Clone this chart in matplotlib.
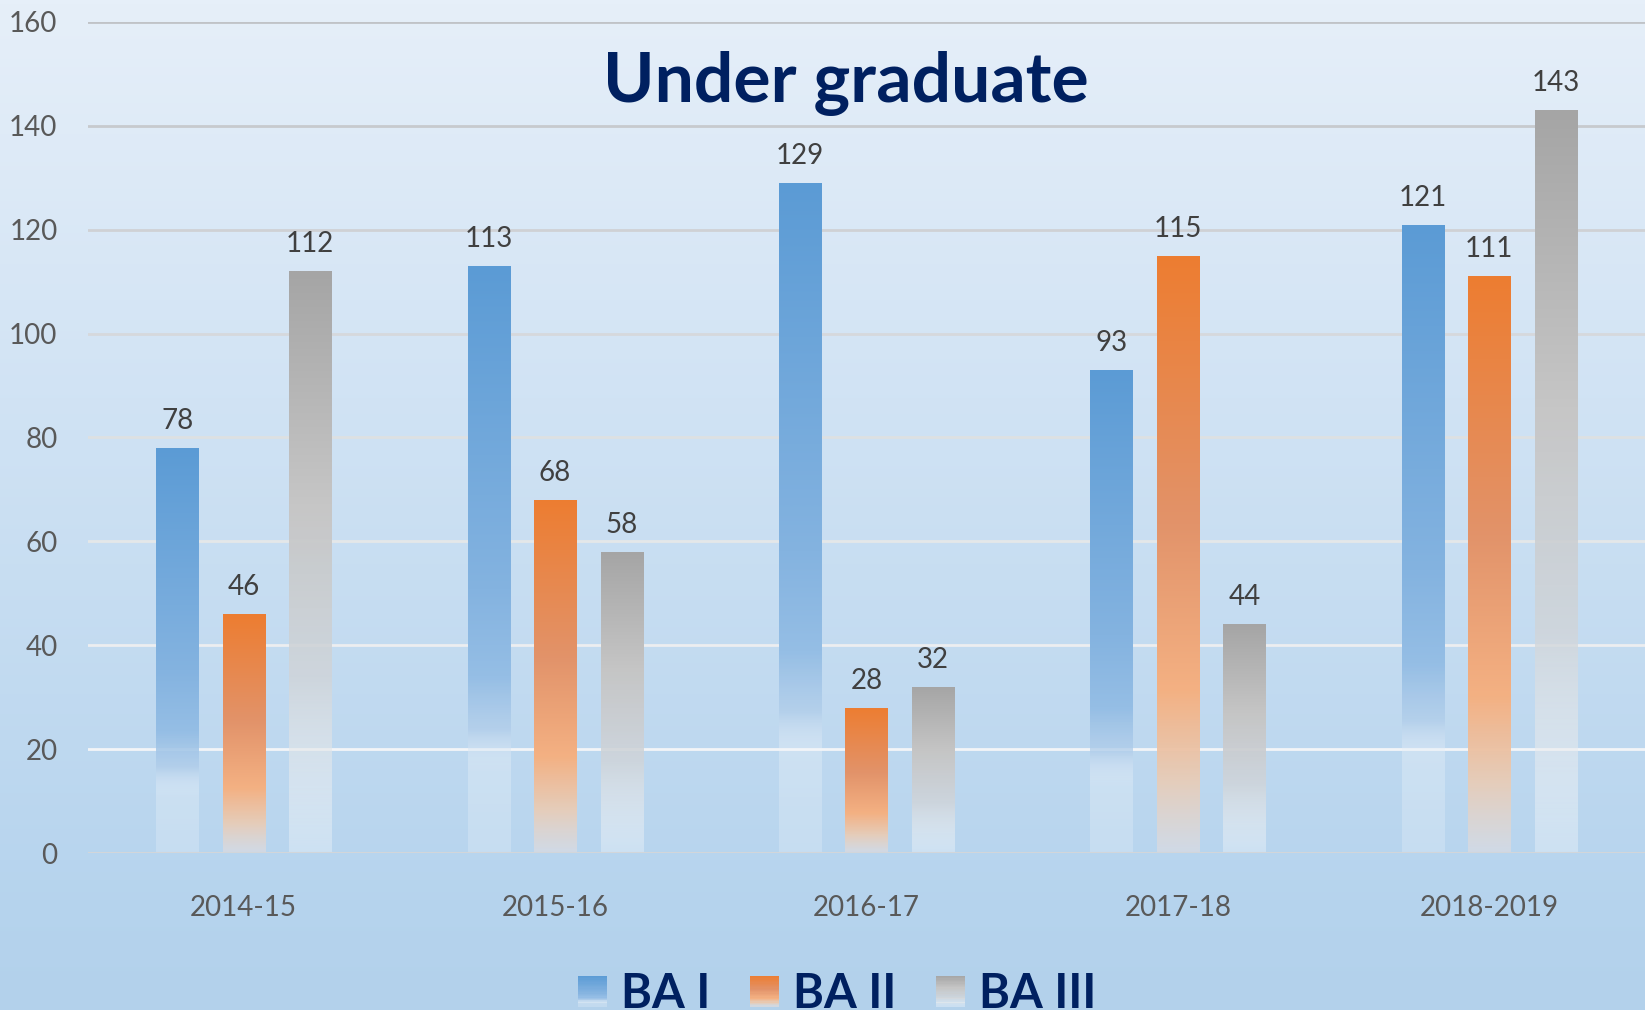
import numpy as np
import matplotlib
matplotlib.use("Agg")
import matplotlib.pyplot as plt
from matplotlib.colors import to_rgb
from matplotlib.patches import Rectangle
from matplotlib.legend_handler import HandlerBase

plt.rcParams['font.family'] = ['Lato', 'DejaVu Sans']

categories = ["2014-15", "2015-16", "2016-17", "2017-18", "2018-2019"]
series_names = ["BA I", "BA II", "BA III"]
ba1 = [78, 113, 129, 93, 121]
ba2 = [46, 68, 28, 115, 111]
ba3 = [112, 58, 32, 44, 143]
series_values = [ba1, ba2, ba3]
yticks = [0, 20, 40, 60, 80, 100, 120, 140, 160]

# gradient stops: (t from bottom 0 -> top 1, colour, alpha)
stops = [
    [(0.0, '#FFFFFF', 0.20), (0.14, '#FFFFFF', 0.24), (0.21, '#B0CDEA', 0.75),
     (0.30, '#95BEE5', 1.0), (0.45, '#84B3E0', 1.0), (1.0, '#5B9BD5', 1.0)],
    [(0.0, '#D9DCE4', 0.75), (0.12, '#E8CDB8', 0.95), (0.27, '#F4B183', 1.0),
     (0.55, '#E2936A', 1.0), (1.0, '#ED7D31', 1.0)],
    [(0.0, '#FFFFFF', 0.30), (0.30, '#D0D5DA', 0.85), (0.60, '#C6C6C6', 1.0),
     (1.0, '#A5A5A5', 1.0)],
]


def make_grad(st, n=256):
    t = np.linspace(0, 1, n)
    ts = [s[0] for s in st]
    cols = np.array([to_rgb(s[1]) for s in st])
    al = np.array([s[2] for s in st])
    out = np.zeros((n, 1, 4))
    for k in range(3):
        out[:, 0, k] = np.interp(t, ts, cols[:, k])
    out[:, 0, 3] = np.interp(t, ts, al)
    return out


W, H = 1645, 1010
fig = plt.figure(figsize=(W / 100, H / 100), dpi=100)

# background gradient
bg = fig.add_axes([0, 0, 1, 1], zorder=-10)
n = 256
tb = np.linspace(0, 1, n)
top = np.array(to_rgb('#E6EFF9'))
bot = np.array(to_rgb('#B3D1EB'))
bgarr = np.zeros((n, 1, 3))
for k in range(3):
    bgarr[:, 0, k] = np.interp(tb, [0, 0.1, 1], [bot[k], bot[k] + 0.01, top[k]])
bg.imshow(bgarr, aspect='auto', origin='lower', extent=[0, 1, 0, 1])
bg.set_axis_off()

ax = fig.add_axes([88 / W, 1 - 853 / H, 1 - 88 / W, (853 - 22) / H])
ax.patch.set_alpha(0)

x = np.arange(len(categories))
width = 0.135
offs = [-0.2135, 0.0, 0.2135]
grads = [make_grad(s) for s in stops]

for i, vals in enumerate(series_values):
    bars = ax.bar(x + offs[i], vals, width=width, facecolor='none', edgecolor='none', zorder=2)
    for rect, v in zip(bars, vals):
        x0 = rect.get_x()
        im = ax.imshow(grads[i], aspect='auto', origin='lower',
                       extent=[x0, x0 + width, 0, v], zorder=2, interpolation='bilinear')
        im.set_clip_path(rect)
        ax.annotate(str(v), (x0 + width / 2, v), xytext=(0, 27), textcoords='offset pixels',
                    ha='center', va='center', fontsize=20, color='#404040')

ax.set_xlim(-0.5, len(categories) - 0.5)
ax.set_ylim(0, 160)
ax.set_yticks(yticks)
ax.set_xticks(x)
ax.set_xticklabels(categories)
for s in ax.spines.values():
    s.set_visible(False)

# gridlines: grey near the top, almost white lower down
g_top = np.array(to_rgb('#C0C3C7'))
g_bot = np.array(to_rgb('#F3F5F7'))
for v in yticks[1:]:
    f = (v - 20) / 140.0
    c = g_bot + (g_top - g_bot) * f
    ax.axhline(v, color=tuple(c), linewidth=2.0, zorder=0.5)
ax.axhline(0, color='#D2D6DA', linewidth=2.2, zorder=3)

ax.tick_params(axis='both', length=0, labelsize=20, colors='#595959')
ax.tick_params(axis='y', pad=22)
ax.tick_params(axis='x', pad=30)

fig.text(846 / W, 1 - 84 / H, "Under graduate", ha='center', va='center',
         fontsize=50, fontweight='bold', color='#002060')


class GradHandler(HandlerBase):
    def __init__(self, grad):
        super().__init__()
        self.grad = grad

    def create_artists(self, legend, orig_handle, xdescent, ydescent, width, height, fontsize, trans):
        arts = []
        nstrip = 24
        for k in range(nstrip):
            t = (k + 0.5) / nstrip
            idx = int(t * (len(self.grad) - 1))
            c = self.grad[idx, 0]
            r = Rectangle((-xdescent, -ydescent + height * k / nstrip), width, height / nstrip + 0.3,
                          facecolor=tuple(c[:3]), alpha=float(c[3]), edgecolor='none', transform=trans)
            arts.append(r)
        return arts


handles = [Rectangle((0, 0), 1, 1) for _ in series_names]
leg = fig.legend(handles, series_names, loc='center', bbox_to_anchor=(837 / W, 0.016),
                 ncol=3, frameon=False, handler_map={h: GradHandler(g) for h, g in zip(handles, grads)},
                 prop={'size': 34, 'weight': 'bold'}, handlelength=0.62, handleheight=0.62,
                 handletextpad=0.28, columnspacing=0.85, labelcolor='#002060')

fig.savefig("out.png", dpi=100)
